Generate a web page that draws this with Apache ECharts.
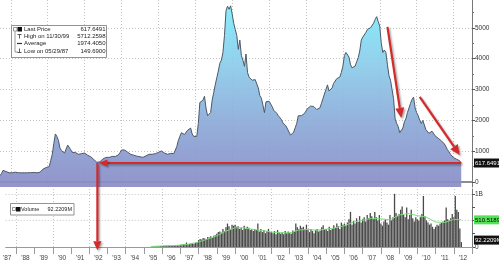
<!DOCTYPE html>
<html><head><meta charset="utf-8">
<script src="https://cdn.jsdelivr.net/npm/echarts@6/dist/echarts.min.js"></script>
<style>html,body{margin:0;padding:0;background:#fff}#c{width:499px;height:267px}</style>
</head><body><div id="c"></div>
<script>
// Month categories, June 1987 .. January 2013
const categories = [];
for (let y = 1987, m = 6; y < 2013 || (y === 2013 && m <= 1);) {
  categories.push(y + '-' + String(m).padStart(2, '0'));
  m++; if (m > 12) { m = 1; y++; }
}
// Monthly price, starting 1987-06
const price = [
  210, 280, 380, 420, 340, 290, 300,
  290, 300, 310, 320, 310, 300, 295, 300, 305, 300, 295, 300,
  300, 305, 300, 310, 305, 300, 310, 320, 340, 420, 480, 470,
  450, 500, 700, 900, 1250, 1560, 1480, 1350, 1100, 1020, 980, 940,
  1000, 1200, 1250, 1050, 960, 930, 960, 940, 900, 880, 920, 950,
  940, 900, 870, 840, 820, 780, 730, 680, 640, 600, 660, 720,
  750, 780, 800, 820, 800, 810, 830, 820, 830, 860, 880, 950,
  1040, 1060, 1040, 990, 970, 930, 900, 880, 870, 860, 840, 830,
  820, 810, 800, 820, 850, 880, 900, 910, 900, 890, 920, 950,
  960, 990, 1010, 980, 940, 910, 900, 920, 930, 940, 920, 940,
  1150, 1350, 1480, 1600, 1580, 1540, 1600, 1680, 1720, 1750, 1560, 1480,
  1470, 1480, 1900, 2580, 2550, 2650, 2780, 2400, 2150, 2200, 2250, 2650,
  2900, 3150, 3380, 3600, 3850, 3950, 4200, 4750, 5550, 5700, 5600, 5712,
  5450, 5150, 4950, 4750, 4300, 4600, 4100, 3950, 3750, 4150, 3550, 3400,
  3350, 3300, 3250, 3320, 3300, 3050, 2800, 2720, 2500, 2250, 2600, 2650,
  2620, 2580, 2450, 2330, 2280, 2230, 2150, 2120, 2030, 1920, 1870, 1820,
  1720, 1620, 1520, 1480, 1620, 1760, 1900, 2150, 2100, 2150, 2130, 2220,
  2300, 2380, 2420, 2460, 2500, 2450, 2390, 2350, 2330, 2400, 2540, 2700,
  2850, 3000, 3150, 2950, 2900, 3050, 3200, 3250, 3350, 3380, 3400, 3550,
  3750, 4100, 4200, 4150, 4050, 3800, 3700, 3710, 3760, 3900, 4030, 4250,
  4600, 4700, 4720, 4850, 4950, 4960, 5000, 5050, 5150, 5270, 5360, 5200,
  5050, 4500, 4200, 4280, 4200, 3800, 3450, 3300, 3000, 2700, 2050, 1900,
  1800, 1600, 1620, 1750, 1950, 2050, 2250, 2400, 2550, 2680, 2750, 2400,
  2250, 2150, 2000, 1900, 2000, 1850, 1700, 1650, 1580, 1600, 1650, 1620,
  1500, 1460, 1420, 1380, 1340, 1300, 1240, 1150, 1050, 980, 900, 850,
  790, 760, 740, 720, 690, 617.6491
];
// Monthly volume (millions), starting 1995-06
const volumeStart = '1995-06';
const volume = [
  8, 10, 12, 10, 14, 15, 18,
  20, 22, 25, 25, 30, 28, 25, 30, 30, 35, 30, 35,
  40, 45, 50, 55, 85, 50, 60, 65, 70, 60, 80, 90,
  130, 150, 140, 170, 160, 150, 190, 180, 200, 170, 210, 220,
  250, 280, 290, 270, 340, 300, 370, 440, 390, 340, 420, 400,
  420, 380, 390, 340, 360, 320, 400, 340, 380, 360, 320, 340,
  300, 340, 320, 440, 290, 340, 280, 320, 260, 300, 340, 280,
  280, 260, 300, 240, 320, 280, 250, 270, 240, 300, 260, 290,
  270, 250, 310, 290, 440, 370, 340, 400, 360, 380, 340, 420,
  320, 280, 340, 300, 260, 320, 340, 290, 310, 370, 410, 340,
  340, 300, 380, 320, 340, 410, 360, 440, 390, 340, 460, 420,
  440, 400, 460, 520, 660, 420, 490, 440, 540, 470, 580, 460,
  520, 560, 480, 600, 540, 640, 580, 520, 660, 560, 500, 600,
  440, 400, 480, 520, 460, 420, 600, 500, 560, 1000, 640, 580,
  620, 700, 760, 600, 560, 740, 520, 600, 700, 540, 480, 560,
  520, 500, 560, 620, 960, 580, 500, 460, 420, 440, 380, 340,
  380, 420, 400, 440, 460, 480, 500, 740, 520, 500, 540, 620,
  560, 960, 700, 660, 350, 92.2209
];
// Volume moving average (millions), read at half-year points
const volumeMA = [
  ['1995-06', 10], ['1996-01', 20], ['1996-07', 26], ['1997-01', 35], ['1997-07', 55],
  ['1998-01', 95], ['1998-07', 150], ['1999-01', 210], ['1999-07', 300], ['2000-01', 360],
  ['2000-07', 360], ['2001-01', 330], ['2001-07', 310], ['2002-01', 280], ['2002-07', 270],
  ['2003-01', 265], ['2003-07', 320], ['2004-01', 330], ['2004-07', 315], ['2005-01', 335],
  ['2005-07', 360], ['2006-01', 400], ['2006-07', 470], ['2007-01', 500], ['2007-07', 540],
  ['2008-01', 530], ['2008-07', 510], ['2009-01', 600], ['2009-07', 630], ['2010-01', 590],
  ['2010-07', 560], ['2011-01', 470], ['2011-07', 460], ['2012-01', 520], ['2012-06', 510]
];
const priceTicks = [0, 1000, 2000, 3000, 4000, 5000];
const priceMinorTicks = [500, 1500, 2500, 3500, 4500, 5500];
const volumeTicks = [0, 250, 500, 750, 1000];
const volumeLabelTicks = [0, 1000];
const volumeGridTicks = [500, 1000];
const legendRows = [
  ['Last Price', '617.6491'],
  ['High on 11/30/99', '5712.2598'],
  ['Average', '1974.4050'],
  ['Low on 05/29/87', '149.6900']
];
const volumeLegend = ['Volume', '92.2209M'];
const lastPriceText = '617.6491';
const maLastText = '510.5189M';
const volLastText = '92.2209M';
// annotation anchors [category, value]
const supportStart = ['1992-10', 617.6491];
const supportEnd = ['2012-06', 617.6491];
const supportDropEnd = ['1992-10', -60];
const arrow1 = [['2008-06', 5030], ['2009-03', 2080]];
const arrow2 = [['2010-03', 2760], ['2012-05', 880]];

const FONT = 'Liberation Sans, Arial, sans-serif';
const isJan = (i, v) => v.slice(5) === '01';
const isJul = (i, v) => v.slice(5) === '07';
const evenJan = (i, v) => v.slice(5) === '01' && (+v.slice(0, 4)) % 2 === 0;
const dotted = { color: '#c4c4c4', type: [1, 2], width: 1 };

const startIdx = categories.indexOf(volumeStart);
const volData = volume.map((v, i) => [startIdx + i, v]);
const maData = volumeMA.map(p => [categories.indexOf(p[0]), p[1]]);

const chart = echarts.init(document.getElementById('c'), null, { renderer: 'canvas' });
chart.setOption({
  animation: false,
  grid: [
    { left: 0, right: 27, top: 0, bottom: 80 },
    { left: 0, right: 27, top: 189, bottom: 20 }
  ],
  xAxis: [
    { type: 'category', gridIndex: 0, data: categories, boundaryGap: false,
      axisLine: { show: true, lineStyle: { color: '#8c8c8c', width: 2 } },
      axisTick: { show: false }, axisLabel: { show: false },
      splitLine: { show: true, interval: evenJan, lineStyle: dotted } },
    { type: 'category', gridIndex: 1, data: categories, boundaryGap: false, offset: 2,
      axisLine: { show: true, lineStyle: { color: '#9a9a9a', width: 1 } },
      axisTick: { show: true, interval: isJan, length: 7, lineStyle: { color: '#9a9a9a' } },
      axisLabel: { show: true, interval: isJul, formatter: v => "'" + v.slice(2, 4),
        fontSize: 6.5, color: '#444', margin: 6, fontFamily: FONT },
      splitLine: { show: true, interval: evenJan, lineStyle: dotted } }
  ],
  yAxis: [
    { type: 'value', gridIndex: 0, position: 'right', min: -160, max: 5900,
      axisLine: { show: true, lineStyle: { color: '#777' } },
      axisTick: { show: true, customValues: priceTicks, length: 3, lineStyle: { color: '#555' } },
      axisLabel: { show: true, customValues: priceTicks, formatter: v => String(v),
        fontSize: 6.5, color: '#333', margin: 3, fontFamily: FONT },
      splitLine: { show: true, lineStyle: dotted } },
    { type: 'value', gridIndex: 0, position: 'right', min: -160, max: 5900,
      axisLine: { show: false },
      axisTick: { show: true, customValues: priceMinorTicks, length: 2, lineStyle: { color: '#777' } },
      axisLabel: { show: false }, splitLine: { show: false } },
    { type: 'value', gridIndex: 1, position: 'right', min: 0, max: 1090,
      axisLine: { show: true, lineStyle: { color: '#777' } },
      axisTick: { show: true, customValues: volumeTicks, length: 3, lineStyle: { color: '#555' } },
      axisLabel: { show: true, customValues: volumeLabelTicks, formatter: v => v === 1000 ? '1B' : '0',
        fontSize: 6.5, color: '#333', margin: 3, fontFamily: FONT },
      splitLine: { show: false } },
    { type: 'value', gridIndex: 1, position: 'right', min: 0, max: 1090,
      axisLine: { show: false },
      axisTick: { show: false, customValues: volumeGridTicks },
      axisLabel: { show: false },
      splitLine: { show: true, lineStyle: dotted } }
  ],
  series: [
    { type: 'line', xAxisIndex: 0, yAxisIndex: 0, data: price, symbol: 'none', z: 2,
      lineStyle: { color: '#4d5866', width: 1 },
      areaStyle: { origin: 'start', opacity: 0.93,
        color: { type: 'linear', x: 0, y: 0, x2: 0, y2: 187, global: true,
          colorStops: [
            { offset: 0, color: '#7eeefb' },
            { offset: 0.35, color: '#8ccbea' },
            { offset: 0.7, color: '#8ca6d6' },
            { offset: 1, color: '#8a8cc6' }
          ] } } },
    { type: 'bar', xAxisIndex: 1, yAxisIndex: 2, data: volData, barWidth: 1.3,
      itemStyle: { color: '#4a4a4a' } },
    { type: 'line', xAxisIndex: 1, yAxisIndex: 2, data: maData, symbol: 'none', z: 3,
      lineStyle: { color: '#78dc78', width: 1 } }
  ]
});

function px(p, grid) {
  const f = grid === 1 ? { xAxisIndex: 1, yAxisIndex: 2 } : { xAxisIndex: 0, yAxisIndex: 0 };
  return chart.convertToPixel(f, [categories.indexOf(p[0]), p[1]]);
}
function head(tip, from, L, W) {
  const dx = tip[0] - from[0], dy = tip[1] - from[1];
  const len = Math.hypot(dx, dy), ux = dx / len, uy = dy / len, nx = -uy, ny = ux;
  const bx = tip[0] - ux * L, by = tip[1] - uy * L;
  return { base: [bx, by], pts: [[tip[0], tip[1]], [bx + nx * W, by + ny * W], [bx - nx * W, by - ny * W]] };
}
const RED = '#d42a2a';
const shadow = { shadowColor: 'rgba(0,0,0,0.35)', shadowBlur: 2, shadowOffsetX: 1.5, shadowOffsetY: 1.5 };
const g = [];
function arrow(a, b, L, W, drawHead) {
  const h = head(b, a, L, W);
  g.push({ type: 'line', shape: { x1: a[0], y1: a[1], x2: h.base[0], y2: h.base[1] },
    style: Object.assign({ stroke: RED, lineWidth: 2.2 }, shadow), z: 100 });
  if (drawHead) g.push({ type: 'polygon', shape: { points: h.pts }, style: Object.assign({ fill: RED }, shadow), z: 100 });
}
// support line with left arrowhead
const s0 = px(supportStart), s1 = px(supportEnd);
arrow(s1, s0, 9, 3.6, true);
// vertical drop arrow into volume panel
const d1 = px(supportDropEnd, 1);
arrow([s0[0] - 1, s0[1]], [s0[0] - 1, d1[1]], 9, 4.2, true);
arrow(px(arrow1[0]), px(arrow1[1]), 10, 4.5, true);
arrow(px(arrow2[0]), px(arrow2[1]), 10, 4.5, true);

// right-axis value boxes
function valueBox(y, text, bg, fg) {
  g.push({ type: 'rect', shape: { x: 474, y: y - 4.5, width: 26, height: 9 }, style: { fill: bg }, z: 100 });
  g.push({ type: 'text', x: 475, y: y, style: { text: text, fill: fg, fontSize: 6, fontFamily: FONT, verticalAlign: 'middle' }, z: 101 });
}
valueBox(px(['2012-06', 617.6491])[1], lastPriceText, '#111', '#fff');
valueBox(px(['2012-06', volumeMA[volumeMA.length - 1][1]], 1)[1], maLastText, '#55e055', '#000');
valueBox(px(['2012-06', volume[volume.length - 1]], 1)[1] - 2, volLastText, '#111', '#fff');

// main legend box
g.push({ type: 'rect', shape: { x: 11.5, y: 25.5, width: 95, height: 32 }, style: { fill: '#fff', stroke: '#777', lineWidth: 0.8 }, z: 100 });
const rowY = [29.5, 36.5, 43.5, 51];
legendRows.forEach((r, i) => {
  g.push({ type: 'text', x: 24, y: rowY[i], style: { text: r[0], fontSize: 6, fill: '#222', fontFamily: FONT, verticalAlign: 'middle' }, z: 101 });
  g.push({ type: 'text', x: 105.5, y: rowY[i], style: { text: r[1], fontSize: 6, fill: '#222', fontFamily: FONT, align: 'right', verticalAlign: 'middle' }, z: 101 });
});
g.push({ type: 'rect', shape: { x: 13.5, y: 27.5, width: 3.5, height: 3.5 }, style: { fill: '#fff', stroke: '#555', lineWidth: 0.6 }, z: 101 });
g.push({ type: 'rect', shape: { x: 17.5, y: 27, width: 4.5, height: 4.5 }, style: { fill: '#111' }, z: 101 });
g.push({ type: 'polyline', shape: { points: [[15, 31.5], [15, 52], [18, 52]] }, style: { stroke: '#555', lineWidth: 0.6, fill: null }, z: 101 });
g.push({ type: 'polyline', shape: { points: [[17.5, 34.5], [21.5, 34.5]] }, style: { stroke: '#333', lineWidth: 0.8 }, z: 101 });
g.push({ type: 'polyline', shape: { points: [[19.5, 34.5], [19.5, 38.5]] }, style: { stroke: '#333', lineWidth: 0.8 }, z: 101 });
g.push({ type: 'polyline', shape: { points: [[17, 43.5], [22, 43.5]] }, style: { stroke: '#333', lineWidth: 1.2 }, z: 101 });
g.push({ type: 'polyline', shape: { points: [[19.5, 48.5], [19.5, 52.5]] }, style: { stroke: '#333', lineWidth: 0.8 }, z: 101 });
g.push({ type: 'polyline', shape: { points: [[17.5, 52.5], [21.5, 52.5]] }, style: { stroke: '#333', lineWidth: 0.8 }, z: 101 });

// volume legend box
g.push({ type: 'rect', shape: { x: 10.5, y: 203.5, width: 63.5, height: 11.5 }, style: { fill: '#fff', stroke: '#777', lineWidth: 0.8 }, z: 100 });
g.push({ type: 'rect', shape: { x: 12.5, y: 207.5, width: 3, height: 3 }, style: { fill: '#fff', stroke: '#555', lineWidth: 0.6 }, z: 101 });
g.push({ type: 'rect', shape: { x: 16, y: 207, width: 4.5, height: 4.5 }, style: { fill: '#111' }, z: 101 });
g.push({ type: 'text', x: 21, y: 209.5, style: { text: volumeLegend[0], fontSize: 5.5, fill: '#222', fontFamily: FONT, verticalAlign: 'middle' }, z: 101 });
g.push({ type: 'text', x: 72, y: 209.5, style: { text: volumeLegend[1], fontSize: 5.5, fill: '#222', fontFamily: FONT, align: 'right', verticalAlign: 'middle' }, z: 101 });

chart.setOption({ graphic: g });
</script></body></html>
